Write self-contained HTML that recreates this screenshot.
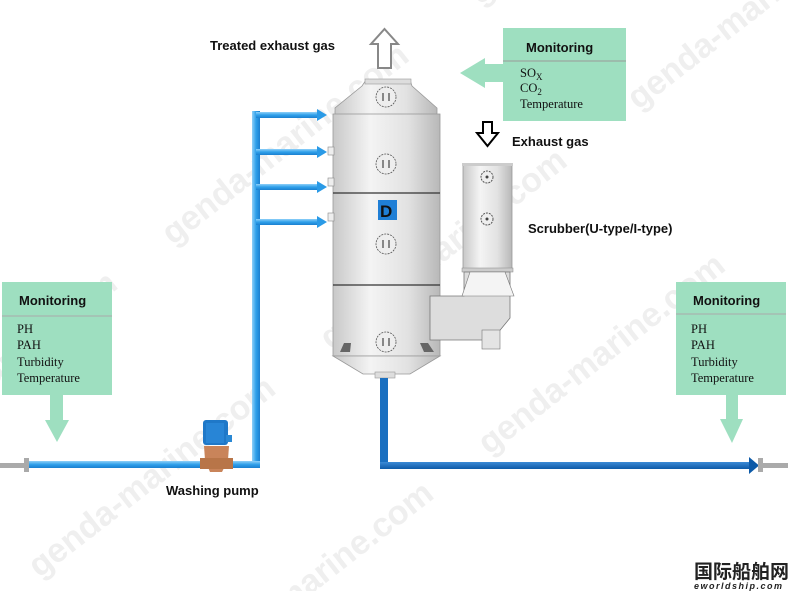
<!DOCTYPE html>
<html><head><meta charset="utf-8"><style>
html,body{margin:0;padding:0;background:#fff;width:788px;height:591px;overflow:hidden;}
svg{display:block;}
.b{font-family:"Liberation Sans",sans-serif;font-weight:bold;font-size:13px;fill:#111;}
.s{font-family:"Liberation Serif",serif;font-size:12.5px;fill:#111;}
.m{font-family:"Liberation Sans",sans-serif;font-weight:bold;font-size:13px;fill:#111;}
.wm{font-family:"Liberation Sans",sans-serif;font-weight:bold;font-size:34px;fill:#efefef;}
</style></head><body>
<svg width="788" height="591" viewBox="0 0 788 591" xmlns="http://www.w3.org/2000/svg">
<defs>
<linearGradient id="tower" x1="0" x2="1" y1="0" y2="0">
<stop offset="0" stop-color="#c8c8c8"/><stop offset="0.35" stop-color="#f4f4f4"/><stop offset="0.7" stop-color="#e2e2e2"/><stop offset="1" stop-color="#b8b8b8"/>
</linearGradient>
<linearGradient id="pipeV" x1="0" x2="1"><stop offset="0" stop-color="#8fd0f8"/><stop offset="0.5" stop-color="#2fa0ea"/><stop offset="1" stop-color="#1a7fd0"/></linearGradient>
<linearGradient id="pipeH" x1="0" x2="0" y1="0" y2="1"><stop offset="0" stop-color="#8fd0f8"/><stop offset="0.5" stop-color="#2fa0ea"/><stop offset="1" stop-color="#1a7fd0"/></linearGradient>
<linearGradient id="drainH" x1="0" x2="0" y1="0" y2="1"><stop offset="0" stop-color="#3b8ad6"/><stop offset="1" stop-color="#0d5aa8"/></linearGradient>
</defs>

<g transform="rotate(-38 394 295)">
<text class="wm" x="-120" y="120">genda-marine.com</text>
<text class="wm" x="250" y="120">genda-marine.com</text>
<text class="wm" x="640" y="120">genda-marine.com</text>
<text class="wm" x="-60" y="300">genda-marine.com</text>
<text class="wm" x="310" y="300">genda-marine.com</text>
<text class="wm" x="700" y="300">genda-marine.com</text>
<text class="wm" x="0" y="480">genda-marine.com</text>
<text class="wm" x="370" y="480">genda-marine.com</text>
</g>

<text class="b" x="210" y="50">Treated exhaust gas</text>
<path d="M378,68 L378,44 L371,44 L384.5,29 L398,44 L391,44 L391,68 Z" fill="#fff" stroke="#888" stroke-width="2"/>

<rect x="503" y="28" width="123" height="93" fill="#9edfc0"/>
<line x1="503" y1="61" x2="626" y2="61" stroke="#999" stroke-width="1"/>
<text class="m" x="526" y="52">Monitoring</text>
<text class="s" x="520" y="77">SO<tspan font-size="9" dy="3">X</tspan></text>
<text class="s" x="520" y="92">CO<tspan font-size="9" dy="3">2</tspan></text>
<text class="s" x="520" y="108">Temperature</text>
<path d="M503,64 L485,64 L485,58 L460,73 L485,88 L485,82 L503,82 Z" fill="#9edfc0"/>

<path d="M483,122 L483,133 L477,133 L487.5,146 L498,133 L492,133 L492,122 Z" fill="#fff" stroke="#000" stroke-width="2"/>
<text class="b" x="512" y="146">Exhaust gas</text>
<text class="b" x="528" y="233">Scrubber(U-type/I-type)</text>

<path d="M366,80 L410,80 L412,86 L437,108 L437,115 L335,115 L335,108 L362,86 Z" fill="url(#tower)" stroke="#999" stroke-width="0.8"/>
<rect x="365" y="79" width="46" height="5" fill="#ddd" stroke="#999" stroke-width="0.6"/>
<rect x="333" y="114" width="107" height="242" fill="url(#tower)" stroke="#999" stroke-width="0.8"/>
<line x1="333" y1="193" x2="440" y2="193" stroke="#333" stroke-width="1.2"/>
<line x1="333" y1="285" x2="440" y2="285" stroke="#333" stroke-width="1.2"/>
<path d="M333,356 L440,356 L410,374 L363,374 Z" fill="url(#tower)" stroke="#999" stroke-width="0.8"/>
<rect x="375" y="372" width="20" height="6" fill="#ddd" stroke="#999" stroke-width="0.6"/>
<g fill="#eee" stroke="#555" stroke-width="0.8" stroke-dasharray="2,1">
<circle cx="386" cy="97" r="10"/><circle cx="386" cy="164" r="10"/><circle cx="386" cy="244" r="10"/><circle cx="386" cy="342" r="10"/>
</g>
<g stroke="#444" stroke-width="1.2">
<line x1="383" y1="93" x2="383" y2="101"/><line x1="389" y1="93" x2="389" y2="101"/>
<line x1="383" y1="160" x2="383" y2="168"/><line x1="389" y1="160" x2="389" y2="168"/>
<line x1="383" y1="240" x2="383" y2="248"/><line x1="389" y1="240" x2="389" y2="248"/>
<line x1="383" y1="338" x2="383" y2="346"/><line x1="389" y1="338" x2="389" y2="346"/>
</g>
<g fill="#eee" stroke="#888" stroke-width="0.6">
<rect x="328" y="147" width="6" height="8"/><rect x="328" y="178" width="6" height="8"/><rect x="328" y="213" width="6" height="8"/>
</g>
<rect x="378" y="200" width="19" height="20" fill="#1f7fd6"/>
<text x="380" y="217" font-family="Liberation Sans" font-weight="bold" font-size="17" fill="#111">D</text>
<path d="M340,352 L344,343 L351,343 L350,352 Z M420,343 L428,343 L434,352 L424,352 Z" fill="#666"/>

<rect x="463" y="165" width="49" height="106" fill="url(#tower)" stroke="#999" stroke-width="0.8"/>
<rect x="462" y="163" width="51" height="3" fill="#ccc"/>
<rect x="462" y="268" width="51" height="4" fill="#ccc" stroke="#888" stroke-width="0.5"/>
<circle cx="487" cy="177" r="6" fill="#eee" stroke="#555" stroke-dasharray="2,1"/><circle cx="487" cy="177" r="1.5" fill="#444"/>
<circle cx="487" cy="219" r="6" fill="#eee" stroke="#555" stroke-dasharray="2,1"/><circle cx="487" cy="219" r="1.5" fill="#444"/>
<path d="M464,272 L510,272 L510,318 L492,340 L430,340 L430,296 L464,296 Z" fill="#ddd" stroke="#777" stroke-width="0.8"/>
<path d="M470,272 L505,272 L514,296 L462,296 Z" fill="#f4f4f4" stroke="#777" stroke-width="0.6"/>
<rect x="482" y="330" width="18" height="19" fill="#e4e4e4" stroke="#777" stroke-width="0.6"/>

<rect x="252" y="111" width="8" height="357" fill="url(#pipeV)"/>
<g fill="url(#pipeH)">
<rect x="256" y="112" width="62" height="6"/><rect x="256" y="149" width="62" height="6"/><rect x="256" y="184" width="62" height="6"/><rect x="256" y="219" width="62" height="6"/>
</g>
<g fill="#2a9ae6">
<path d="M317,109 L327,115 L317,121 Z"/><path d="M317,146 L327,152 L317,158 Z"/><path d="M317,181 L327,187 L317,193 Z"/><path d="M317,216 L327,222 L317,228 Z"/>
</g>

<rect x="0" y="463" width="25" height="5" fill="#aaa"/>
<rect x="24" y="458" width="5" height="14" fill="#aaa"/>
<rect x="29" y="461" width="231" height="7" fill="url(#pipeH)"/>

<rect x="203" y="420" width="25" height="25" rx="3" fill="#1f78c8"/>
<rect x="226" y="435" width="6" height="7" fill="#2a88d4"/>
<rect x="206" y="423" width="18" height="20" fill="#2e8ee0" opacity="0.6"/>
<path d="M204,446 L229,446 L228,460 L222,472 L210,472 L205,460 Z" fill="#c9845a"/>
<rect x="200" y="458" width="33" height="11" fill="#b87548"/>

<text class="b" x="166" y="495">Washing pump</text>

<rect x="2" y="282" width="110" height="113" fill="#9edfc0"/>
<line x1="2" y1="316" x2="112" y2="316" stroke="#aaa" stroke-width="1"/>
<text class="m" x="19" y="305">Monitoring</text>
<text class="s" x="17" y="333">PH</text>
<text class="s" x="17" y="349">PAH</text>
<text class="s" x="17" y="366">Turbidity</text>
<text class="s" x="17" y="382">Temperature</text>
<path d="M50,395 L63,395 L63,420 L69,420 L57,442 L45,420 L50,420 Z" fill="#9edfc0"/>

<rect x="380" y="378" width="8" height="90" fill="#1a6fc0"/>
<rect x="380" y="462" width="370" height="7" fill="url(#drainH)"/>
<path d="M749,457 L759,465.5 L749,474 Z" fill="#0d5aa8"/>
<rect x="758" y="458" width="5" height="14" fill="#aaa"/>
<rect x="763" y="463" width="25" height="5" fill="#aaa"/>

<rect x="676" y="282" width="110" height="113" fill="#9edfc0"/>
<line x1="676" y1="314" x2="786" y2="314" stroke="#aaa" stroke-width="1"/>
<text class="m" x="693" y="305">Monitoring</text>
<text class="s" x="691" y="333">PH</text>
<text class="s" x="691" y="349">PAH</text>
<text class="s" x="691" y="366">Turbidity</text>
<text class="s" x="691" y="382">Temperature</text>
<path d="M726,395 L738,395 L738,419 L743,419 L732,443 L720,419 L726,419 Z" fill="#9edfc0"/>

<text x="694" y="578" style="font-family:'Liberation Sans','Noto Sans CJK SC',sans-serif" font-weight="bold" font-size="19" fill="#222">国际船舶网</text>
<text x="694" y="589" style="font-family:'Liberation Sans',sans-serif" font-weight="bold" font-style="italic" font-size="9" fill="#222" letter-spacing="1.5">eworldship.com</text>
</svg>
</body></html>
